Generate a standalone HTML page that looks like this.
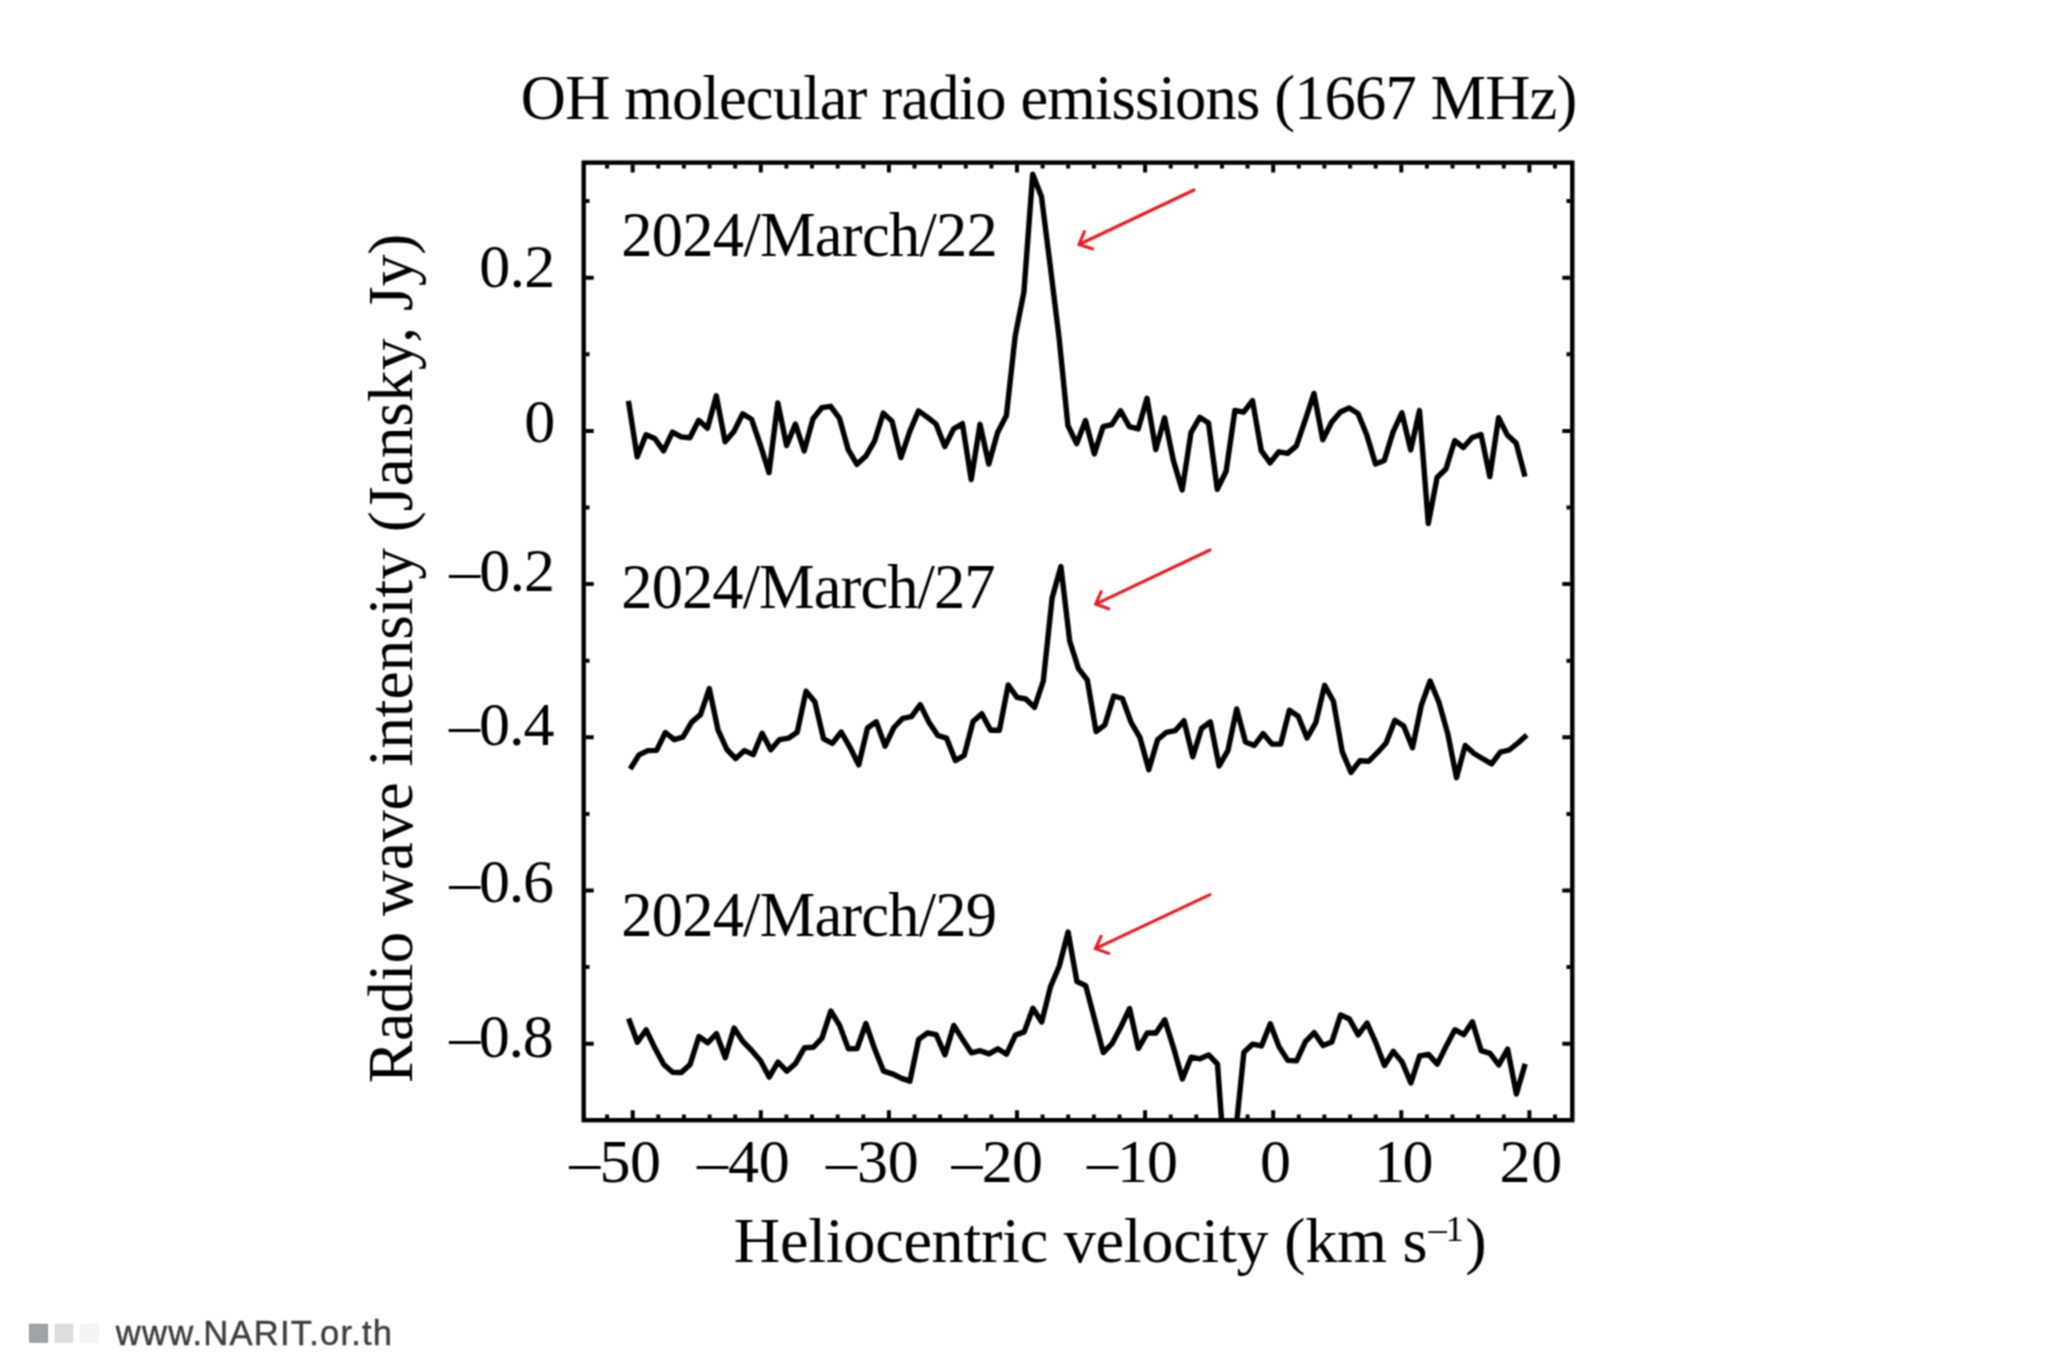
<!DOCTYPE html>
<html><head><meta charset="utf-8"><title>OH molecular radio emissions (1667 MHz)</title>
<style>
html,body{margin:0;padding:0;background:#fff;}
body{width:2048px;height:1365px;overflow:hidden;}
svg{display:block;}

.s{font-family:"Liberation Serif","Times New Roman",serif;fill:#000;}
</style></head><body>
<svg width="2048" height="1365" viewBox="0 0 2048 1365">
<defs><filter id="bl" x="0" y="0" width="2048" height="1365" filterUnits="userSpaceOnUse" color-interpolation-filters="sRGB"><feConvolveMatrix order="3" kernelMatrix="1 2 1 2 4 2 1 2 1" divisor="16" edgeMode="duplicate"/></filter></defs>
<g filter="url(#bl)">
<rect width="2048" height="1365" fill="#fff"/>
<defs><clipPath id="c"><rect x="585.9" y="164.8" width="984.2" height="953.2"/></clipPath></defs>
<text x="520.84" y="119.30" font-size="62.50" class="s" textLength="1056.51" lengthAdjust="spacing">OH molecular radio emissions (1667 MHz)</text>
<g clip-path="url(#c)" fill="none" stroke="#000" stroke-width="5.4" stroke-linejoin="round" stroke-linecap="butt">
<polyline points="628.4,400.9 637.2,456.8 646.0,434.8 654.8,438.5 663.6,450.9 672.4,432.1 681.1,436.9 689.9,437.8 698.7,420.3 707.5,428.3 716.3,395.8 725.1,441.8 733.9,431.6 742.7,413.8 751.5,419.2 760.2,444.5 769.0,472.6 777.8,402.9 786.6,445.5 795.4,424.0 804.2,450.9 813.0,418.7 821.8,407.7 830.6,406.3 839.4,418.1 848.1,449.3 856.9,464.3 865.7,456.3 874.5,441.2 883.3,413.1 892.1,421.4 900.9,457.6 909.7,431.6 918.5,410.9 927.3,417.1 936.0,424.0 944.8,446.6 953.6,428.9 962.4,423.7 971.2,479.7 980.0,424.3 988.8,464.1 997.6,432.6 1006.4,415.4 1015.2,336.0 1023.9,292.0 1032.7,174.3 1041.5,196.8 1050.3,266.5 1059.1,338.0 1067.9,425.5 1076.7,443.6 1085.5,420.5 1094.3,453.9 1103.1,426.7 1111.8,424.6 1120.6,410.8 1129.4,426.7 1138.2,428.9 1147.0,398.3 1155.8,449.6 1164.6,417.8 1173.4,460.6 1182.2,489.9 1191.0,432.6 1199.8,417.3 1208.5,423.0 1217.3,489.4 1226.1,471.3 1234.9,410.5 1243.7,412.2 1252.5,400.6 1261.3,450.7 1270.1,462.8 1278.9,451.8 1287.6,453.4 1296.4,445.9 1305.2,420.1 1314.0,393.4 1322.8,439.7 1331.6,422.2 1340.4,412.0 1349.2,407.9 1358.0,413.6 1366.8,435.1 1375.5,463.9 1384.3,460.4 1393.1,431.9 1401.9,412.8 1410.7,449.9 1419.5,410.6 1428.3,523.5 1437.1,477.5 1445.9,469.0 1454.7,440.7 1463.4,447.5 1472.2,437.5 1481.0,434.5 1489.8,476.5 1498.6,417.6 1507.4,435.1 1516.2,443.2 1525.0,476.6"/>
<polyline points="630.2,769.0 639.0,754.9 647.8,750.6 656.6,750.4 665.4,732.5 674.2,739.6 682.9,737.1 691.7,722.1 700.5,714.6 709.3,688.6 718.1,730.2 726.9,749.5 735.7,758.6 744.5,750.6 753.3,754.6 762.1,733.2 770.8,749.8 779.6,739.6 788.4,738.2 797.2,732.3 806.0,691.2 814.8,701.7 823.6,738.8 832.4,743.4 841.2,732.0 850.0,747.3 858.7,764.9 867.5,728.0 876.3,721.8 885.1,746.1 893.9,727.5 902.7,718.3 911.5,716.7 920.3,704.6 929.1,722.6 937.9,735.5 946.6,738.2 955.4,760.6 964.2,755.4 973.0,721.6 981.8,713.7 990.6,730.2 999.4,730.2 1008.2,685.0 1017.0,697.4 1025.8,699.0 1034.5,707.4 1043.3,681.0 1052.1,598.0 1060.9,566.6 1069.7,641.0 1078.5,668.7 1087.3,680.0 1096.1,731.6 1104.9,724.8 1113.7,696.0 1122.4,698.5 1131.2,722.6 1140.0,737.7 1148.8,769.7 1157.6,739.8 1166.4,732.3 1175.2,730.7 1184.0,720.7 1192.8,756.8 1201.5,728.5 1210.3,721.8 1219.1,765.9 1227.9,750.6 1236.7,708.9 1245.5,742.0 1254.3,745.5 1263.1,733.6 1271.9,744.1 1280.7,744.1 1289.4,710.2 1298.2,716.2 1307.0,738.0 1315.8,722.6 1324.6,685.3 1333.4,701.2 1342.2,751.6 1351.0,772.4 1359.8,760.8 1368.6,761.3 1377.3,752.7 1386.1,743.0 1394.9,720.2 1403.7,725.9 1412.5,747.7 1421.3,705.4 1430.1,681.0 1438.9,702.2 1447.7,733.4 1456.5,777.7 1465.2,745.4 1474.0,753.5 1482.8,758.8 1491.6,763.9 1500.4,752.2 1509.2,750.0 1518.0,743.0 1526.8,735.1"/>
<polyline points="628.6,1018.5 637.4,1042.2 646.2,1029.8 655.0,1048.3 663.8,1064.5 672.6,1072.3 681.3,1072.5 690.1,1064.5 698.9,1036.5 707.7,1042.8 716.5,1033.7 725.3,1057.8 734.1,1028.1 742.9,1041.4 751.7,1050.5 760.5,1060.7 769.2,1077.1 778.0,1062.0 786.8,1071.2 795.6,1063.4 804.4,1047.8 813.2,1047.3 822.0,1038.1 830.8,1011.0 839.6,1025.4 848.4,1048.9 857.1,1048.5 865.9,1023.5 874.7,1049.1 883.5,1071.1 892.3,1073.8 901.1,1078.1 909.9,1081.1 918.7,1039.4 927.5,1033.0 936.2,1034.6 945.0,1054.8 953.8,1025.4 962.6,1039.4 971.4,1052.8 980.2,1050.7 989.0,1053.9 997.8,1048.8 1006.6,1054.2 1015.4,1035.1 1024.2,1031.9 1032.9,1008.3 1041.7,1022.0 1050.5,986.7 1059.3,966.0 1068.1,932.0 1076.9,981.5 1085.7,985.6 1094.5,1019.0 1103.3,1052.6 1112.0,1043.7 1120.8,1027.0 1129.6,1008.5 1138.4,1048.3 1147.2,1033.0 1156.0,1033.0 1164.8,1019.8 1173.6,1048.1 1182.4,1079.0 1191.2,1057.1 1199.9,1058.8 1208.7,1054.9 1217.5,1064.1 1226.3,1186.0 1235.1,1138.0 1243.9,1052.3 1252.7,1044.1 1261.5,1045.9 1270.3,1023.7 1279.1,1046.9 1287.8,1060.4 1296.6,1060.9 1305.4,1041.6 1314.2,1032.6 1323.0,1045.6 1331.8,1042.1 1340.6,1014.9 1349.4,1019.0 1358.2,1034.9 1367.0,1023.0 1375.8,1042.6 1384.5,1065.5 1393.3,1051.4 1402.1,1062.0 1410.9,1083.0 1419.7,1055.9 1428.5,1054.4 1437.3,1064.1 1446.1,1046.3 1454.9,1029.7 1463.7,1034.7 1472.4,1021.8 1481.2,1050.7 1490.0,1053.3 1498.8,1065.0 1507.6,1049.1 1516.4,1094.0 1525.2,1063.8"/>
</g>
<rect x="583.7" y="162.6" width="988.6" height="957.6" fill="none" stroke="#000" stroke-width="4.4"/>
<path d="M607.1 1118.0V1114.4M607.1 164.8V168.4M632.7 1118.0V1110.2M632.7 164.8V172.6M658.3 1118.0V1114.4M658.3 164.8V168.4M683.9 1118.0V1114.4M683.9 164.8V168.4M709.6 1118.0V1114.4M709.6 164.8V168.4M735.2 1118.0V1114.4M735.2 164.8V168.4M760.8 1118.0V1110.2M760.8 164.8V172.6M786.4 1118.0V1114.4M786.4 164.8V168.4M812.0 1118.0V1114.4M812.0 164.8V168.4M837.7 1118.0V1114.4M837.7 164.8V168.4M863.3 1118.0V1114.4M863.3 164.8V168.4M888.9 1118.0V1110.2M888.9 164.8V172.6M914.5 1118.0V1114.4M914.5 164.8V168.4M940.1 1118.0V1114.4M940.1 164.8V168.4M965.8 1118.0V1114.4M965.8 164.8V168.4M991.4 1118.0V1114.4M991.4 164.8V168.4M1017.0 1118.0V1110.2M1017.0 164.8V172.6M1042.6 1118.0V1114.4M1042.6 164.8V168.4M1068.2 1118.0V1114.4M1068.2 164.8V168.4M1093.9 1118.0V1114.4M1093.9 164.8V168.4M1119.5 1118.0V1114.4M1119.5 164.8V168.4M1145.1 1118.0V1110.2M1145.1 164.8V172.6M1170.7 1118.0V1114.4M1170.7 164.8V168.4M1196.3 1118.0V1114.4M1196.3 164.8V168.4M1222.0 1118.0V1114.4M1222.0 164.8V168.4M1247.6 1118.0V1114.4M1247.6 164.8V168.4M1273.2 1118.0V1110.2M1273.2 164.8V172.6M1298.8 1118.0V1114.4M1298.8 164.8V168.4M1324.4 1118.0V1114.4M1324.4 164.8V168.4M1350.1 1118.0V1114.4M1350.1 164.8V168.4M1375.7 1118.0V1114.4M1375.7 164.8V168.4M1401.3 1118.0V1110.2M1401.3 164.8V172.6M1426.9 1118.0V1114.4M1426.9 164.8V168.4M1452.5 1118.0V1114.4M1452.5 164.8V168.4M1478.2 1118.0V1114.4M1478.2 164.8V168.4M1503.8 1118.0V1114.4M1503.8 164.8V168.4M1529.4 1118.0V1110.2M1529.4 164.8V172.6M1555.0 1118.0V1114.4M1555.0 164.8V168.4M585.9 1043.7H593.7M1570.1 1043.7H1562.3M585.9 967.1H589.5M1570.1 967.1H1566.5M585.9 890.5H593.7M1570.1 890.5H1562.3M585.9 813.9H589.5M1570.1 813.9H1566.5M585.9 737.3H593.7M1570.1 737.3H1562.3M585.9 660.7H589.5M1570.1 660.7H1566.5M585.9 584.1H593.7M1570.1 584.1H1562.3M585.9 507.5H589.5M1570.1 507.5H1566.5M585.9 430.9H593.7M1570.1 430.9H1562.3M585.9 354.3H589.5M1570.1 354.3H1566.5M585.9 277.7H593.7M1570.1 277.7H1562.3M585.9 201.1H589.5M1570.1 201.1H1566.5" stroke="#000" stroke-width="4.0" fill="none"/>
<text x="569.22" y="1181.70" font-size="62.00" class="s" textLength="91.74" lengthAdjust="spacing">–50</text>
<text x="697.12" y="1181.70" font-size="62.00" class="s" textLength="92.74" lengthAdjust="spacing">–40</text>
<text x="826.02" y="1181.70" font-size="62.00" class="s" textLength="92.74" lengthAdjust="spacing">–30</text>
<text x="951.42" y="1181.70" font-size="62.00" class="s" textLength="91.54" lengthAdjust="spacing">–20</text>
<text x="1086.92" y="1181.70" font-size="62.00" class="s" textLength="91.04" lengthAdjust="spacing">–10</text>
<text x="1260.04" y="1181.70" font-size="62.00" class="s">0</text>
<text x="1374.05" y="1181.70" font-size="62.00" class="s" textLength="59.51" lengthAdjust="spacing">10</text>
<text x="1499.38" y="1181.70" font-size="62.00" class="s" textLength="62.79" lengthAdjust="spacing">20</text>
<text x="479.24" y="287.10" font-size="62.00" class="s" textLength="76.08" lengthAdjust="spacing">0.2</text>
<text x="524.24" y="442.10" font-size="62.00" class="s">0</text>
<text x="449.22" y="591.00" font-size="62.00" class="s" textLength="105.80" lengthAdjust="spacing">–0.2</text>
<text x="448.92" y="745.10" font-size="62.00" class="s" textLength="105.64" lengthAdjust="spacing">–0.4</text>
<text x="449.22" y="901.90" font-size="62.00" class="s" textLength="104.82" lengthAdjust="spacing">–0.6</text>
<text x="449.22" y="1056.80" font-size="62.00" class="s" textLength="104.44" lengthAdjust="spacing">–0.8</text>
<text x="621.35" y="256.30" font-size="62.50" class="s" textLength="376.50" lengthAdjust="spacing">2024/March/22</text>
<text x="621.35" y="607.80" font-size="62.50" class="s" textLength="374.25" lengthAdjust="spacing">2024/March/27</text>
<text x="621.35" y="936.00" font-size="62.50" class="s" textLength="375.61" lengthAdjust="spacing">2024/March/29</text>
<path d="M1195.1 189.5L1079.0 244.5M1084.9 230.5L1079.0 244.5L1093.7 249.2" stroke="#ec1c24" stroke-width="3.1" fill="none" stroke-linecap="butt" stroke-linejoin="miter"/>
<path d="M1211.1 549.5L1095.7 604.1M1101.6 590.5L1095.7 604.1L1110.0 609.2" stroke="#ec1c24" stroke-width="3.1" fill="none" stroke-linecap="butt" stroke-linejoin="miter"/>
<path d="M1211.1 894.2L1095.4 948.7M1101.6 935.2L1095.4 948.7L1110.0 953.9" stroke="#ec1c24" stroke-width="3.1" fill="none" stroke-linecap="butt" stroke-linejoin="miter"/>
<text transform="translate(411.5 1083.3) rotate(-90)" font-size="63.4" class="s">Radio wave intensity (Jansky, Jy)</text>
<text x="733.85" y="1261.50" font-size="64.30" class="s" textLength="693.68" lengthAdjust="spacing">Heliocentric velocity (km s</text>
<text x="1428.45" y="1241.00" font-size="36.50" class="s" textLength="35.34" lengthAdjust="spacing">–1</text>
<text x="1465.22" y="1261.5" font-size="64.3" class="s">)</text>
<rect x="29.6" y="1324.3" width="17.9" height="17.9" fill="#a2a3a6" stroke="#939396" stroke-width="1"/>
<rect x="55.1" y="1324.3" width="17.6" height="17.9" fill="#dedee0" stroke="#d7d7d9" stroke-width="1"/>
<rect x="80.5" y="1324.3" width="17.9" height="17.9" fill="#f5f5f6" stroke="#efeff0" stroke-width="1"/>
<text x="115.8" y="1345" font-size="34.6" fill="#3e3e3e" stroke="#3e3e3e" stroke-width="0.45" font-family="Liberation Sans, Arial, sans-serif" textLength="276.3" lengthAdjust="spacing">www.NARIT.or.th</text>
</g>
</svg>
</body></html>
